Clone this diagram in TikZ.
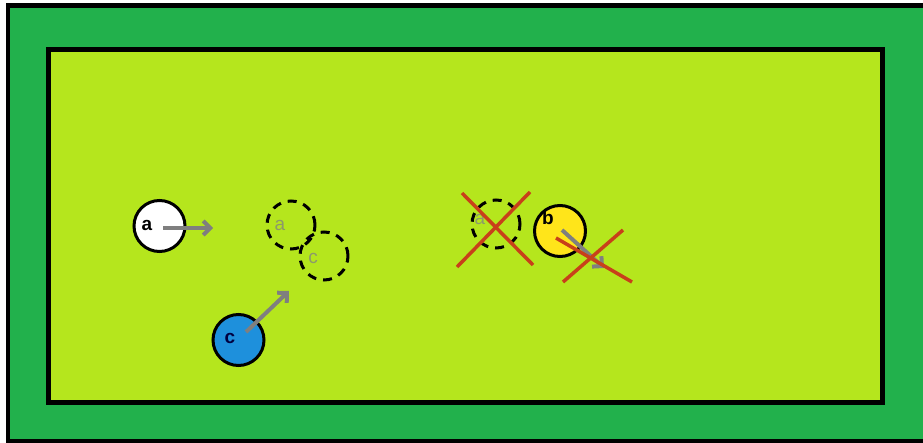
\documentclass[tikz,border=0pt]{standalone}
\usepackage{fontspec}
\setmainfont{Liberation Sans}
\usetikzlibrary{arrows.meta}
\definecolor{tablegreen}{HTML}{22B14C}
\definecolor{felt}{HTML}{B5E61D}
\definecolor{ballyellow}{HTML}{FFE51A}
\definecolor{ballblue}{HTML}{1E90DC}
\definecolor{cuegray}{HTML}{7F7F7F}
\definecolor{crossred}{HTML}{C8401A}
\definecolor{ghostgray}{HTML}{8C9A6A}
\tikzset{
  ball/.style={circle, draw=black, line width=3pt, minimum size=51pt, inner sep=0pt},
  ghost/.style={circle, draw=black, line width=3pt, dash pattern=on 9pt off 7pt, minimum size=48pt, inner sep=0pt},
  lbl/.style={font=\fontsize{19}{19}\selectfont\bfseries, inner sep=0pt},
  glbl/.style={lbl, text=ghostgray, font=\fontsize{19}{19}\selectfont},
  move/.style={draw=cuegray, line width=4pt, -{Straight Barb[length=7pt,width=14pt,line width=4pt]}},
  xmark/.style={draw=crossred, line width=3.5pt},
}
\begin{document}
\begin{tikzpicture}[x=1pt,y=-1pt]
\useasboundingbox (0,0) rectangle (923,443);
\fill[white] (0,0) rectangle (923,443);
% table
\path[draw=black, fill=tablegreen, line width=4.5pt] (8,5.5) rectangle (940,441);
\path[draw=black, fill=felt, line width=5pt] (48.5,49.5) rectangle (882.5,402.5);
% white ball a
\node[ball, fill=white] (A) at (159.5,226) {};
\node[lbl] (Alab) at (147,225) {a};
\coordinate (Aend) at (213,228);
\draw[move] (163,228) -- (Aend);
% ghost balls
\node[ghost] (GA) at (291,225) {};
\node[glbl] (GAlab) at (280,225) {a};
\node[ghost] (GC) at (324,256) {};
\node[glbl] (GClab) at (313,258) {c};
% blue ball c
\node[ball, fill=ballblue] (C) at (238.5,340) {};
\node[lbl, text=black!75!blue] (Clab) at (230,338) {c};
\coordinate (Cend) at (289,291);
\draw[move] (246,332) -- (Cend);
% ghost a crossed
\node[ghost] (GA2) at (496,224) {};
\node[glbl] (GA2lab) at (480,219) {a};
% yellow ball b
\node[ball, fill=ballyellow] (B) at (560,231) {};
\node[lbl] (Blab) at (548,218) {b};
\coordinate (Bend) at (604,268);
\draw[move] (562,230) -- (Bend);
% crosses
\coordinate (X1a) at (462,193);
\coordinate (X1b) at (533,265);
\coordinate (X1c) at (530,192);
\coordinate (X1d) at (457,267);
\draw[xmark] (X1a) -- (X1b);
\draw[xmark] (X1c) -- (X1d);
\coordinate (X2a) at (623,230);
\coordinate (X2b) at (563,282);
\coordinate (X2c) at (556,238);
\coordinate (X2d) at (632,282);
\draw[xmark] (X2a) -- (X2b);
\draw[xmark] (X2c) -- (X2d);
\end{tikzpicture}
\end{document}
